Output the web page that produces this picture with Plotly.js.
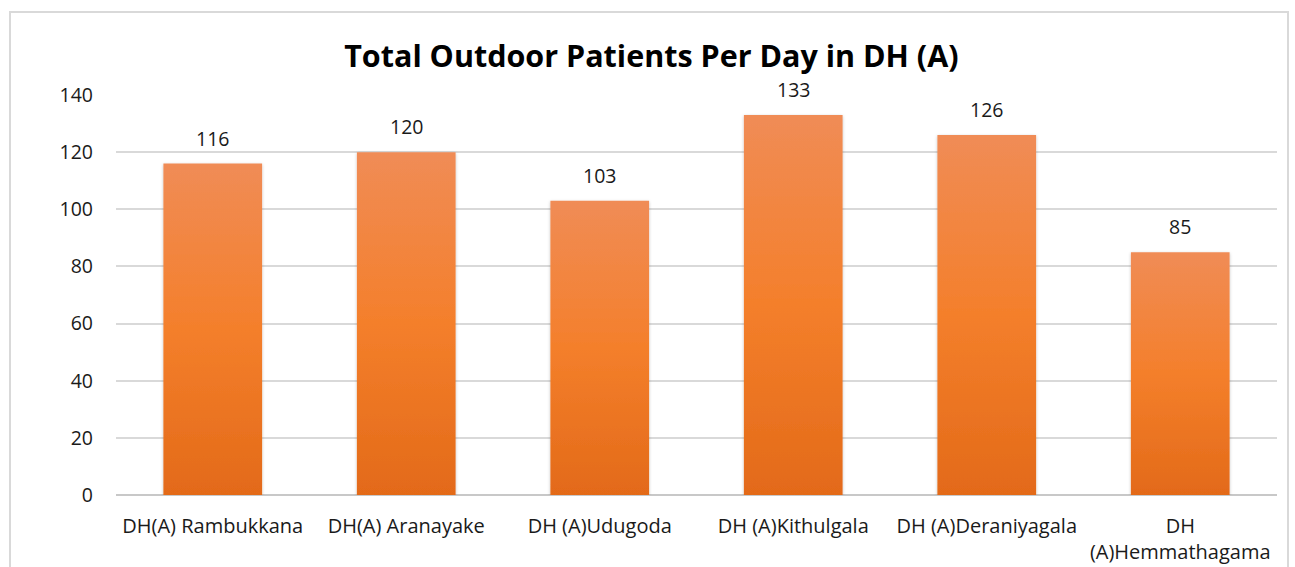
<!DOCTYPE html>
<html>
<head>
<meta charset="utf-8">
<script src="https://cdn.plot.ly/plotly-3.0.1.min.js"></script>
<style>
html,body{margin:0;padding:0;background:#fff;}
#frame{position:absolute;left:9px;top:11px;width:1280px;height:570px;border:2px solid #D9D9D9;box-sizing:border-box;}
#chart{position:absolute;left:0;top:0;width:1295px;height:567px;}
</style>
</head>
<body>
<div id="chart"></div>
<div id="frame"></div>
<script>
const categories = ["DH(A) Rambukkana", "DH(A) Aranayake", "DH (A)Udugoda", "DH (A)Kithulgala", "DH (A)Deraniyagala", "DH<br>(A)Hemmathagama"];
const patients = [116, 120, 103, 133, 126, 85];
const yTicks = [0, 20, 40, 60, 80, 100, 120, 140];
const chartTitle = "Total Outdoor Patients Per Day in DH (A)";

const fontFam = "'Open Sans', sans-serif";

const trace = {
  type: 'bar',
  x: categories,
  y: patients,
  marker: {color: '#F37F2A', line: {width: 0}},
  hoverinfo: 'none'
};

const valueLabels = categories.map(function(c, i){
  return {x: c, y: patients[i], xref: 'x', yref: 'y', text: String(patients[i]),
          showarrow: false, yanchor: 'bottom', yshift: 10,
          font: {family: fontFam, size: 19.5, color: '#1a1a1a'}};
});

const layout = {
  width: 1295, height: 567,
  margin: {l: 116, r: 18, t: 95, b: 72},
  paper_bgcolor: 'rgba(0,0,0,0)',
  plot_bgcolor: '#fff',
  bargap: 0.49,
  showlegend: false,
  annotations: valueLabels,
  title: {text: '<b>' + chartTitle + '</b>', x: 0.503, xanchor: 'center', y: 0.9, yanchor: 'middle',
          font: {family: fontFam, size: 30.5, color: '#000'}},
  xaxis: {
    type: 'category', showgrid: false, zeroline: false, showline: false, ticks: '',
    tickfont: {family: fontFam, size: 20, color: '#1a1a1a'},
    ticklabelstandoff: 17, automargin: false
  },
  yaxis: {
    range: [0, 140], tickvals: yTicks, ticktext: yTicks.map(String),
    showgrid: true, gridcolor: '#D9D9D9', gridwidth: 2,
    zeroline: true, zerolinecolor: '#C8C8C8', zerolinewidth: 2,
    showline: false, ticks: '',
    tickfont: {family: fontFam, size: 19.5, color: '#1a1a1a'},
    ticklabelstandoff: 22, automargin: false
  }
};

Plotly.newPlot('chart', [trace], layout, {staticPlot: true, displayModeBar: false}).then(function(gd){
  const svg = gd.querySelector('svg.main-svg');
  const ns = 'http://www.w3.org/2000/svg';
  let defs = svg.querySelector('defs');
  if (!defs) { defs = document.createElementNS(ns, 'defs'); svg.insertBefore(defs, svg.firstChild); }
  const grad = document.createElementNS(ns, 'linearGradient');
  grad.setAttribute('id', 'barGrad');
  grad.setAttribute('x1', '0'); grad.setAttribute('y1', '0');
  grad.setAttribute('x2', '0'); grad.setAttribute('y2', '1');
  [['0', '#F08C56'], ['0.5', '#F47F2B'], ['1', '#E36A19']].forEach(function(s){
    const st = document.createElementNS(ns, 'stop');
    st.setAttribute('offset', s[0]); st.setAttribute('stop-color', s[1]);
    grad.appendChild(st);
  });
  defs.appendChild(grad);
  const filt = document.createElementNS(ns, 'filter');
  filt.setAttribute('id', 'barShadow');
  filt.setAttribute('x', '-10%'); filt.setAttribute('y', '-5%');
  filt.setAttribute('width', '120%'); filt.setAttribute('height', '110%');
  filt.innerHTML = '<feDropShadow dx="0" dy="1" stdDeviation="1.5" flood-color="#000" flood-opacity="0.25"/>';
  defs.appendChild(filt);
  gd.querySelectorAll('.barlayer .point path').forEach(function(p){
    p.style.fill = 'url(#barGrad)';
    p.setAttribute('filter', 'url(#barShadow)');
  });
});
</script>
</body>
</html>
